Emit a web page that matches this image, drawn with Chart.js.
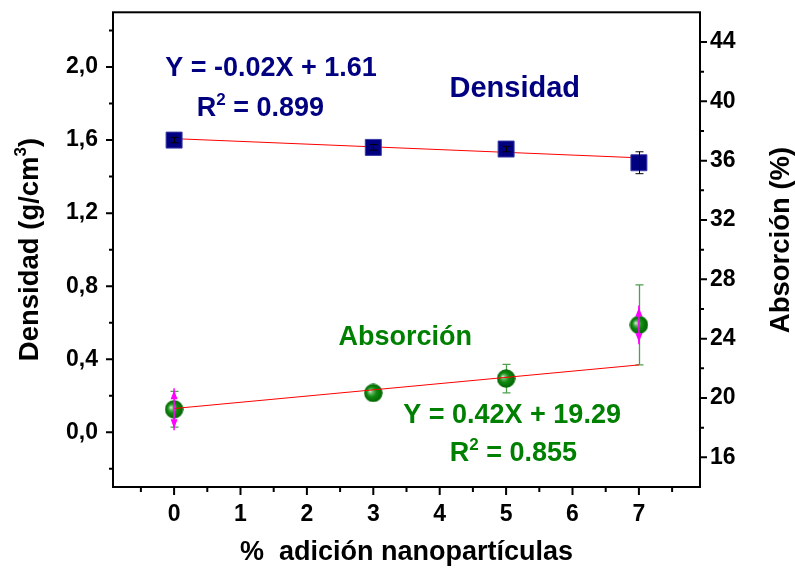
<!DOCTYPE html>
<html><head><meta charset="utf-8">
<script src="https://cdn.jsdelivr.net/npm/chart.js@4.4.1/dist/chart.umd.min.js"></script>
<style>html,body{margin:0;padding:0;background:#fff}canvas{display:block}</style>
</head><body>
<canvas id="c" width="795" height="570"></canvas>
<script>
// Nanoparticle addition (%) and measured properties
const nanoPct = [0, 3, 5, 7];
const densidad = [1.600, 1.560, 1.551, 1.476];        // g/cm3
const densidadErr = [0.015, 0.015, 0.015, 0.06];
const absorcion = [19.24, 20.34, 21.31, 24.93];       // %
const absorcionErr = [1.2, 0.3, 0.96, 2.7];
const absorcionRango = [1.42, 0, 0, 1.3];

// Linear fits (slope, intercept) and fit range
const densFit = [-0.015, 1.608];
const absFit = [0.42, 19.29];
const fitRange = [0, 7];

// Axis ticks
const xTicks = [0, 1, 2, 3, 4, 5, 6, 7];
const xMinor = [-0.5, 0.5, 1.5, 2.5, 3.5, 4.5, 5.5, 6.5, 7.5];
const densTicks = [0, 0.4, 0.8, 1.2, 1.6, 2.0];
const densMinor = [-0.2, 0.2, 0.6, 1.0, 1.4, 1.8, 2.2];
const absTicks = [16, 20, 24, 28, 32, 36, 40, 44];
const absMinor = [18, 22, 26, 30, 34, 38, 42];

const FONT = "'Liberation Sans', Arial, sans-serif";
const NAVY = '#000080';
const GREEN = '#008000';

// shaded sphere marker
function sphere(d) {
  const cv = document.createElement('canvas');
  cv.width = d; cv.height = d;
  const g = cv.getContext('2d');
  const r = d / 2;
  const grad = g.createRadialGradient(r - 3.5, r - 2, 0, r, r, r);
  grad.addColorStop(0, '#f2faf2');
  grad.addColorStop(0.2, '#70bc70');
  grad.addColorStop(0.5, '#118a11');
  grad.addColorStop(1, '#006200');
  g.fillStyle = grad;
  g.beginPath(); g.arc(r, r, r - 0.3, 0, Math.PI * 2); g.fill();
  return cv;
}

const pts = (xs, ys) => xs.map((x, i) => ({ x, y: ys[i] }));
const fitPts = f => fitRange.map(x => ({ x, y: f[0] * x + f[1] }));

function fixTicks(values) {
  return scale => { scale.ticks = values.map(v => ({ value: v })); };
}
function noPad(s) { s.paddingTop = 0; s.paddingBottom = 0; s.paddingLeft = 0; s.paddingRight = 0; }

function richWidth(ctx, parts) {
  let w = 0;
  for (const p of parts) { ctx.font = `bold ${p.s}px ${FONT}`; w += ctx.measureText(p.t).width; }
  return w;
}
function drawRich(ctx, parts, x, y, color) {
  let cx = x - richWidth(ctx, parts) / 2;
  ctx.fillStyle = color;
  ctx.textAlign = 'left';
  ctx.textBaseline = 'middle';
  for (const p of parts) {
    ctx.font = `bold ${p.s}px ${FONT}`;
    ctx.fillText(p.t, cx, y + (p.dy || 0));
    cx += ctx.measureText(p.t).width;
  }
}

function vBar(ctx, x, y1, y2, cap) {
  ctx.beginPath();
  ctx.moveTo(x, y1); ctx.lineTo(x, y2);
  if (cap) {
    ctx.moveTo(x - cap, y1); ctx.lineTo(x + cap, y1);
    ctx.moveTo(x - cap, y2); ctx.lineTo(x + cap, y2);
  }
  ctx.stroke();
}

const overlay = {
  id: 'overlay',
  beforeDatasetsDraw(chart) {
    const { ctx, scales } = chart;
    const X = scales.x, R = scales.yR;
    ctx.save();
    ctx.strokeStyle = '#4f9f4f';
    ctx.lineWidth = 1.3;
    nanoPct.forEach((v, i) => {
      const px = Math.round(X.getPixelForValue(v)) + 0.5;
      vBar(ctx, px, R.getPixelForValue(absorcion[i] + absorcionErr[i]),
        R.getPixelForValue(absorcion[i] - absorcionErr[i]), 4);
    });
    ctx.restore();
  },
  afterDatasetsDraw(chart) {
    const { ctx, scales } = chart;
    const X = scales.x, L = scales.yL, R = scales.yR;
    ctx.save();
    // density error bars
    ctx.strokeStyle = '#000000';
    ctx.lineWidth = 1;
    nanoPct.forEach((v, i) => {
      const px = Math.round(X.getPixelForValue(v)) + 0.5;
      vBar(ctx, px, L.getPixelForValue(densidad[i] + densidadErr[i]),
        L.getPixelForValue(densidad[i] - densidadErr[i]), 4);
    });
    // absorption range arrows
    ctx.strokeStyle = '#ff00ff';
    ctx.fillStyle = '#ff00ff';
    ctx.lineWidth = 1.5;
    nanoPct.forEach((v, i) => {
      if (!absorcionRango[i]) return;
      const px = X.getPixelForValue(v);
      const top = R.getPixelForValue(absorcion[i] + absorcionRango[i]);
      const bot = R.getPixelForValue(absorcion[i] - absorcionRango[i]);
      ctx.beginPath(); ctx.moveTo(px, top); ctx.lineTo(px, bot); ctx.stroke();
      ctx.beginPath();
      ctx.moveTo(px, top + 2); ctx.lineTo(px - 3.5, top + 11); ctx.lineTo(px + 3.5, top + 11); ctx.closePath();
      ctx.moveTo(px, bot - 2); ctx.lineTo(px - 3.5, bot - 11); ctx.lineTo(px + 3.5, bot - 11); ctx.closePath();
      ctx.fill();
    });
    ctx.restore();
  },
  afterDraw(chart) {
    const { ctx, scales, chartArea: a } = chart;
    const X = scales.x, L = scales.yL, R = scales.yR;
    ctx.save();
    ctx.strokeStyle = '#000';
    ctx.lineWidth = 2;
    ctx.strokeRect(a.left, a.top, a.right - a.left, a.bottom - a.top);
    ctx.beginPath();
    const tick = (x1, y1, x2, y2) => { ctx.moveTo(x1, y1); ctx.lineTo(x2, y2); };
    xTicks.forEach(v => { const p = X.getPixelForValue(v); tick(p, a.bottom, p, a.bottom + 8); });
    xMinor.forEach(v => { const p = X.getPixelForValue(v); tick(p, a.bottom, p, a.bottom + 5); });
    densTicks.forEach(v => { const p = L.getPixelForValue(v); tick(a.left - 7, p, a.left, p); });
    densMinor.forEach(v => { const p = L.getPixelForValue(v); tick(a.left - 4, p, a.left, p); });
    absTicks.forEach(v => { const p = R.getPixelForValue(v); tick(a.right, p, a.right + 7, p); });
    absMinor.forEach(v => { const p = R.getPixelForValue(v); tick(a.right, p, a.right + 4, p); });
    ctx.stroke();

    // fit equations and series names, anchored in data coordinates
    drawRich(ctx, [{ t: 'Y = -0.02X + 1.61', s: 27 }], X.getPixelForValue(1.46), L.getPixelForValue(1.99), NAVY);
    drawRich(ctx, [{ t: 'R', s: 27 }, { t: '2', s: 17, dy: -8 }, { t: ' = 0.899', s: 27 }],
      X.getPixelForValue(1.30), L.getPixelForValue(1.775), NAVY);
    drawRich(ctx, [{ t: 'Densidad', s: 29 }], X.getPixelForValue(5.13), L.getPixelForValue(1.879), NAVY);
    drawRich(ctx, [{ t: 'Absorción', s: 27 }], X.getPixelForValue(3.48), R.getPixelForValue(24.09), GREEN);
    drawRich(ctx, [{ t: 'Y = 0.42X + 19.29', s: 27 }], X.getPixelForValue(5.09), R.getPixelForValue(18.83), GREEN);
    drawRich(ctx, [{ t: 'R', s: 27 }, { t: '2', s: 17, dy: -8 }, { t: ' = 0.855', s: 27 }],
      X.getPixelForValue(5.11), R.getPixelForValue(16.27), GREEN);

    // axis titles
    drawRich(ctx, [{ t: '%  adición nanopartículas', s: 27 }], (a.left + a.right) / 2, 553, '#000');
    ctx.save();
    ctx.translate(30, 249.5); ctx.rotate(-Math.PI / 2);
    drawRich(ctx, [{ t: 'Densidad (g/cm', s: 27.5 }, { t: '3', s: 17, dy: -9 }, { t: ')', s: 27.5 }], 0, 0, '#000');
    ctx.restore();
    ctx.save();
    ctx.translate(781, 240); ctx.rotate(-Math.PI / 2);
    drawRich(ctx, [{ t: 'Absorción (%)', s: 27.5 }], 0, 0, '#000');
    ctx.restore();
    ctx.restore();
  }
};

const tickFont = { family: FONT, size: 23, weight: 'bold' };

new Chart(document.getElementById('c'), {
  type: 'scatter',
  data: {
    datasets: [
      { label: 'Densidad ajuste', data: fitPts(densFit), yAxisID: 'yL', showLine: true,
        borderColor: '#ff0000', borderWidth: 1, pointRadius: 0, order: 4 },
      { label: 'Absorción', data: pts(nanoPct, absorcion), yAxisID: 'yR',
        pointStyle: sphere(19), pointRadius: 9.5, order: 3 },
      { label: 'Densidad', data: pts(nanoPct, densidad), yAxisID: 'yL', pointStyle: 'rect',
        pointRadius: 11.3, backgroundColor: NAVY, borderColor: '#3a3aa8', borderWidth: 1, order: 2 },
      { label: 'Absorción ajuste', data: fitPts(absFit), yAxisID: 'yR', showLine: true,
        borderColor: '#ff0000', borderWidth: 1, pointRadius: 0, order: 1 }
    ]
  },
  options: {
    responsive: false,
    animation: false,
    events: [],
    layout: { padding: { top: 11, left: 0, right: 0, bottom: 0 } },
    plugins: { legend: { display: false }, tooltip: { enabled: false } },
    scales: {
      x: {
        type: 'linear', min: -0.92, max: 7.92,
        grid: { display: false, drawTicks: false }, border: { display: false },
        afterBuildTicks: fixTicks(xTicks),
        afterFit: s => { s.height = 83; noPad(s); },
        ticks: { color: '#000', font: tickFont, padding: 14, maxRotation: 0, callback: v => String(v) }
      },
      yL: {
        type: 'linear', position: 'left', min: -0.3, max: 2.3,
        grid: { display: false, drawTicks: false }, border: { display: false },
        afterBuildTicks: fixTicks(densTicks),
        afterFit: s => { s.width = 113; noPad(s); },
        ticks: { color: '#000', font: tickFont, padding: 15, callback: v => v.toFixed(1).replace('.', ',') }
      },
      yR: {
        type: 'linear', position: 'right', min: 14, max: 46,
        grid: { display: false, drawTicks: false }, border: { display: false },
        afterBuildTicks: fixTicks(absTicks),
        afterFit: s => { s.width = 95; noPad(s); },
        ticks: { color: '#000', font: tickFont, padding: 10, callback: v => String(v) }
      }
    }
  },
  plugins: [overlay]
});
</script>
</body></html>
